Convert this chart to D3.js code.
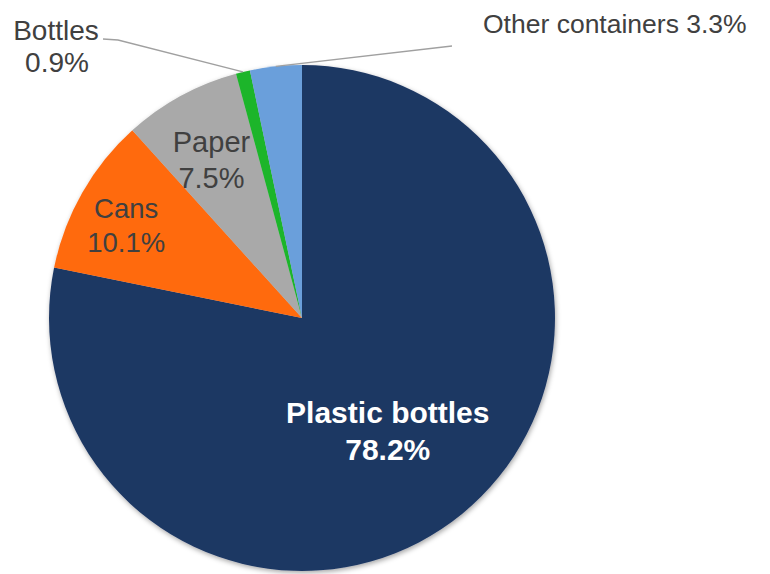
<!DOCTYPE html>
<html>
<head>
<meta charset="utf-8">
<script src="https://cdn.jsdelivr.net/npm/d3@7"></script>
<style>
  html, body { margin: 0; padding: 0; background: #fff; }
  svg { display: block; }
  text { font-family: "Liberation Sans", Arial, sans-serif; }
</style>
</head>
<body>
<svg id="chart" width="770" height="574"></svg>
<script>
// Share of collected containers by type (%), clockwise from 12 o'clock
const categories = ["Plastic bottles", "Cans", "Paper", "Bottles", "Other containers"];
const shares = [78.2, 10.1, 7.5, 0.9, 3.3];
const colors = ["#1f3864", "#ff6a10", "#a9a9a9", "#1db52b", "#6a9fdb"];

const cx = 302, cy = 318, R = 253;

const svg = d3.select("#chart");

const defs = svg.append("defs");
const f = defs.append("filter").attr("id", "shadow")
  .attr("x", "-10%").attr("y", "-10%").attr("width", "120%").attr("height", "120%");
f.append("feDropShadow").attr("dx", 1).attr("dy", 2).attr("stdDeviation", 2.5)
  .attr("flood-color", "#000").attr("flood-opacity", 0.35);

const data = categories.map((c, i) => ({ name: c, value: shares[i], color: colors[i] }));

const pie = d3.pie().value(d => d.value).sort(null);
const arcs = pie(data);
const arc = d3.arc().innerRadius(0).outerRadius(R);

const g = svg.append("g").attr("transform", `translate(${cx},${cy})`);

g.append("g").attr("filter", "url(#shadow)")
  .selectAll("path").data(arcs).join("path")
  .attr("d", arc)
  .attr("fill", d => d.data.color);

// Inside labels: first baseline sits on the slice's mid-angle at radius k*R
const inside = {
  "Plastic bottles": { k: 0.536, fill: "#ffffff", weight: "bold", size: 30, lh: 37 },
  "Cans": { k: 0.80, fill: "#404040", weight: "normal", size: 27.5, lh: 34 },
  "Paper": { k: 0.747, fill: "#404040", weight: "normal", size: 29, lh: 36 }
};
const fmt = v => v.toFixed(1) + "%";

arcs.filter(a => inside[a.data.name]).forEach(a => {
  const o = inside[a.data.name];
  const mid = (a.startAngle + a.endAngle) / 2;
  const x = Math.sin(mid) * R * o.k, y = -Math.cos(mid) * R * o.k;
  const t = g.append("text")
    .attr("text-anchor", "middle")
    .attr("fill", o.fill)
    .attr("font-weight", o.weight)
    .attr("font-size", o.size);
  t.append("tspan").attr("x", x).attr("y", y).text(a.data.name);
  t.append("tspan").attr("x", x).attr("y", y + o.lh).text(fmt(a.data.value));
});

// Outside labels with leader lines
const edge = (a, frac) => {
  const ang = a.startAngle + (a.endAngle - a.startAngle) * frac;
  return [cx + Math.sin(ang) * R, cy - Math.cos(ang) * R];
};

const bottles = arcs[3];
const bp = edge(bottles, 0.5);
svg.append("polyline")
  .attr("points", [[103, 39], [118, 40], [bp[0], bp[1]]].map(p => p.join(",")).join(" "))
  .attr("fill", "none").attr("stroke", "#a0a0a0").attr("stroke-width", 1.3);
const bt = svg.append("text").attr("text-anchor", "middle").attr("fill", "#404040").attr("font-size", 28);
bt.append("tspan").attr("x", 56).attr("y", 40).text(bottles.data.name);
bt.append("tspan").attr("x", 57).attr("y", 72).text(fmt(bottles.data.value));

const other = arcs[4];
const op = edge(other, 0.5);
svg.append("line")
  .attr("x1", 452).attr("y1", 46).attr("x2", op[0]).attr("y2", op[1])
  .attr("stroke", "#a0a0a0").attr("stroke-width", 1.3);
svg.append("text").attr("x", 483).attr("y", 33).attr("fill", "#404040").attr("font-size", 26.5)
  .text(other.data.name + " " + fmt(other.data.value));
</script>
</body>
</html>
